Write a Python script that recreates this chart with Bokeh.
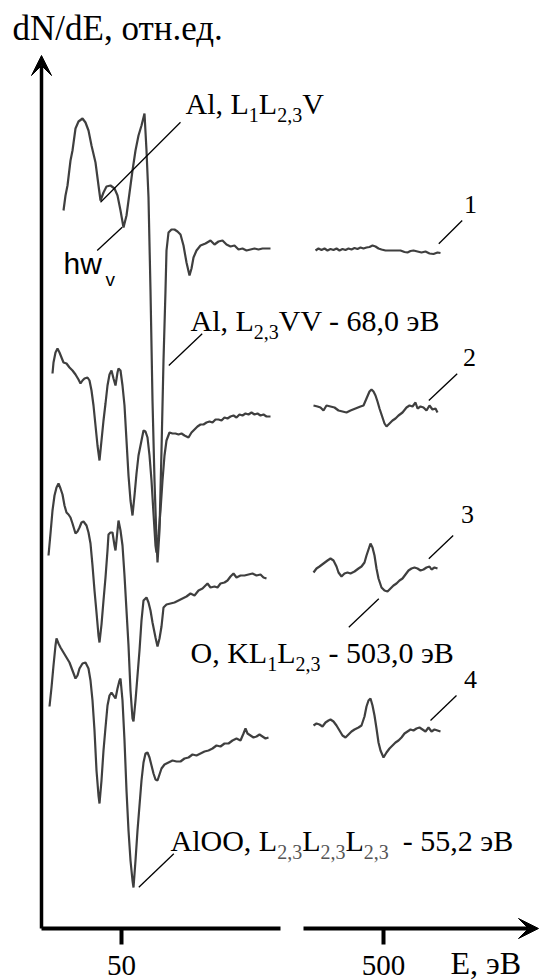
from bokeh.plotting import figure
from bokeh.models import Range1d, FixedTicker, Arrow, VeeHead
from bokeh.core.properties import value
from bokeh.embed import file_html
from bokeh.resources import INLINE

# ---------------- data: Auger spectra dN/dE (relative units, offset per curve) ----------------
# energy removed by the break of the E axis (between the low and the high segment)
BREAK_SHIFT = 319
TICK_E = [50, 500]
TICK_LABELS = ["50", "500"]

# curve 1 (top)
C1_LOW_E = [21.0, 22.0, 23.0, 24.5, 25.5, 27.0, 28.5, 30.5, 32.0, 33.5, 35.0, 37.0, 38.5, 39.5, 41.0, 42.5, 44.5, 46.5,
            48.0, 49.5, 51.0, 52.5, 53.5, 55.5, 57.0, 58.5, 60.0, 61.5, 62.5, 63.5, 64.5, 65.5, 66.5, 67.5, 68.0, 69.0,
            70.0, 71.0, 72.0, 72.5, 73.5, 75.0, 76.5, 78.0, 79.5, 81.0, 82.5, 84.0, 85.0, 86.0, 87.5, 89.5, 92.0, 94.5,
            96.5, 98.5, 100.5, 102.5, 104.5, 106.5, 108.5, 110.5, 112.5, 114.5, 116.5, 118.5, 120.5, 122.5, 124.5]
C1_LOW_I = [71.8, 73.3, 74.3, 76.8, 77.8, 80.0, 80.7, 81.0, 80.6, 79.8, 78.3, 76.6, 74.3, 72.8, 73.6, 74.2, 74.3, 74.0,
            73.3, 71.8, 70.1, 71.3, 72.8, 75.8, 77.8, 79.3, 80.3, 81.5, 77.8, 73.1, 63.8, 52.8, 44.8, 38.8, 36.6, 39.8,
            47.8, 56.8, 63.8, 67.8, 69.6, 69.9, 69.9, 69.7, 69.4, 68.3, 66.6, 65.3, 66.0, 67.1, 67.8, 68.3, 68.5, 68.8,
            68.4, 68.7, 68.8, 68.4, 68.2, 68.3, 67.9, 68.0, 67.8, 67.9, 68.0, 67.9, 68.0, 68.0, 68.0]
C1_HIGH_E = [466.0, 467.5, 469.0, 470.5, 472.0, 473.5, 475.0, 476.5, 478.0, 479.5, 481.0, 482.5, 484.0, 485.5, 487.0,
             488.5, 490.0, 491.5, 493.0, 494.5, 496.0, 497.5, 499.0, 501.0, 503.5, 506.0, 508.5, 510.5, 512.0, 513.5,
             515.0, 517.0, 519.0, 521.0, 523.0, 525.0, 527.0, 528.5]
C1_HIGH_I = [67.8, 68.0, 67.85, 68.0, 67.8, 67.95, 67.85, 68.0, 67.8, 67.95, 67.85, 68.0, 67.9, 68.05, 67.95, 68.1,
             68.0, 68.1, 68.15, 68.3, 68.2, 68.0, 67.9, 67.8, 67.8, 67.8, 67.8, 67.65, 67.6, 67.75, 67.8, 67.7, 67.6,
             67.7, 67.5, 67.45, 67.6, 67.55]

# curve 2
C2_LOW_E = [15.5, 16.0, 17.0, 18.0, 19.0, 20.0, 21.0, 22.5, 24.0, 25.5, 27.0, 28.5, 29.5, 30.5, 31.5, 33.0, 34.0, 35.0,
            36.0, 37.0, 38.0, 39.0, 40.0, 41.0, 42.0, 43.0, 44.0, 45.0, 46.0, 47.0, 48.0, 48.5, 49.5, 50.5, 51.5, 52.5,
            53.5, 54.5, 55.5, 56.5, 57.5, 58.5, 59.5, 61.0, 62.0, 63.0, 64.0, 65.0, 66.0, 67.0, 67.5, 68.5, 69.5, 70.5,
            71.5, 72.5, 74.0, 75.5, 77.0, 78.5, 80.0, 81.5, 83.5, 85.0, 86.5, 88.0, 89.5, 91.0, 92.5, 94.0, 95.5, 97.0,
            98.5, 100.0, 101.5, 103.0, 104.5, 106.0, 107.5, 109.0, 110.5, 112.0, 113.5, 115.0, 116.5, 118.0, 119.5,
            121.0, 122.5, 124.5]
C2_LOW_I = [55.5, 56.6, 57.6, 58.0, 57.6, 57.1, 56.6, 56.5, 56.1, 55.8, 55.4, 54.9, 54.5, 54.8, 55.0, 55.1, 54.8, 53.8,
            52.3, 50.3, 48.3, 46.8, 48.8, 50.8, 52.5, 54.3, 55.4, 55.8, 55.0, 54.3, 55.6, 56.0, 55.8, 54.3, 52.3, 48.8,
            45.3, 42.8, 41.3, 43.3, 45.5, 47.3, 48.3, 49.8, 49.7, 49.1, 47.3, 44.8, 41.5, 38.3, 37.6, 39.3, 41.8, 44.8,
            47.3, 48.8, 49.6, 49.5, 49.5, 49.4, 49.5, 49.3, 49.1, 49.6, 49.9, 50.2, 50.4, 50.4, 50.6, 50.7, 50.6, 50.9,
            50.9, 50.8, 51.1, 51.0, 51.2, 51.3, 51.1, 51.4, 51.3, 51.5, 51.4, 51.6, 51.4, 51.5, 51.3, 51.4, 51.2, 51.2]
C2_HIGH_E = [465.0, 467.0, 468.5, 470.0, 471.5, 473.5, 475.5, 477.5, 479.5, 481.5, 483.5, 486.0, 488.5, 490.0, 491.5,
             493.0, 494.0, 495.0, 496.0, 497.0, 498.0, 499.5, 500.5, 501.5, 503.0, 504.5, 506.0, 507.5, 509.5, 511.5,
             513.0, 514.5, 516.0, 517.0, 518.5, 520.0, 521.5, 523.0, 524.5, 526.0, 527.0]
C2_HIGH_I = [52.3, 52.2, 52.1, 51.8, 52.3, 52.2, 52.1, 51.8, 51.7, 51.6, 51.8, 52.0, 52.2, 52.3, 53.0, 53.7, 53.9, 53.7,
             53.3, 52.7, 52.0, 51.1, 50.5, 50.2, 50.5, 50.8, 51.0, 51.3, 51.6, 52.1, 52.3, 52.2, 52.6, 52.0, 52.2, 52.1,
             51.8, 52.3, 51.9, 52.0, 51.6]

# curve 3
C3_LOW_E = [13.5, 14.5, 15.5, 16.5, 17.5, 18.5, 19.5, 20.5, 21.5, 22.5, 23.5, 24.5, 25.5, 27.0, 28.0, 29.0, 30.0, 31.0,
            32.5, 33.5, 34.5, 35.5, 36.5, 37.5, 38.5, 39.0, 40.0, 41.0, 42.0, 43.0, 43.5, 44.5, 45.5, 46.5, 47.0, 48.0,
            48.5, 49.5, 50.5, 51.5, 52.5, 53.5, 54.5, 55.5, 56.0, 57.0, 58.0, 59.0, 60.0, 61.0, 62.5, 63.5, 64.5, 65.5,
            67.0, 68.0, 69.0, 70.0, 71.0, 72.5, 74.5, 76.5, 78.5, 80.5, 82.5, 84.5, 86.5, 88.5, 90.5, 92.0, 93.0, 94.5,
            96.5, 98.0, 99.5, 101.5, 103.0, 104.5, 106.0, 107.5, 109.5, 111.5, 113.5, 115.5, 117.5, 119.5, 121.0, 122.5]
C3_LOW_I = [37.3, 39.5, 41.8, 43.3, 44.1, 44.5, 44.0, 43.4, 42.3, 41.6, 41.4, 41.1, 40.5, 39.5, 39.7, 40.1, 40.6, 40.7,
            40.3, 39.6, 38.5, 36.3, 33.8, 31.6, 29.3, 28.6, 30.4, 32.8, 35.1, 37.8, 39.4, 39.6, 39.6, 38.3, 37.8, 39.8,
            40.8, 39.8, 38.3, 35.3, 31.8, 28.3, 23.8, 21.0, 20.7, 22.8, 25.3, 27.8, 30.8, 32.8, 33.1, 32.6, 31.8, 30.6,
            29.1, 28.2, 29.0, 30.2, 32.1, 32.4, 32.5, 32.6, 32.8, 33.0, 33.2, 33.5, 33.3, 33.8, 34.0, 34.3, 34.5, 34.1,
            34.2, 34.1, 34.5, 34.6, 34.8, 35.2, 35.5, 35.1, 35.3, 35.3, 35.4, 35.5, 35.3, 35.4, 35.1, 35.0]
C3_HIGH_E = [465.0, 466.5, 468.0, 470.0, 472.0, 473.5, 475.0, 476.5, 477.5, 479.0, 480.5, 482.0, 483.5, 485.5, 487.5,
             489.0, 490.5, 491.5, 492.5, 493.5, 494.5, 495.5, 496.5, 497.5, 499.0, 500.5, 502.0, 503.5, 505.0, 506.5,
             508.0, 509.5, 511.0, 512.5, 514.0, 515.5, 517.0, 518.5, 520.0, 521.5, 523.0, 524.0, 525.5, 527.0]
C3_HIGH_I = [35.6, 36.0, 36.2, 36.5, 36.8, 37.0, 36.8, 36.2, 35.6, 35.2, 35.5, 35.6, 35.5, 35.7, 36.0, 36.2, 36.6, 37.3,
             37.9, 38.5, 38.1, 37.3, 36.0, 35.0, 34.1, 33.8, 33.7, 34.0, 34.3, 34.5, 34.8, 35.0, 35.4, 35.8, 36.0, 36.1,
             36.0, 35.8, 35.9, 36.1, 36.2, 35.9, 36.1, 36.0]

# curve 4 (bottom)
C4_LOW_E = [14.0, 15.0, 16.0, 17.0, 17.5, 18.5, 19.5, 21.0, 22.5, 24.0, 25.5, 27.0, 28.0, 29.0, 30.5, 32.0, 33.5, 34.5,
            35.5, 36.5, 37.5, 38.5, 39.0, 40.0, 41.0, 42.0, 43.0, 44.0, 45.0, 46.0, 47.0, 48.0, 49.0, 49.5, 50.5, 51.5,
            52.5, 53.5, 54.5, 55.5, 56.0, 57.0, 58.0, 59.0, 60.0, 61.0, 62.0, 63.0, 64.0, 65.0, 66.0, 67.0, 68.0, 69.0,
            70.0, 71.5, 73.5, 75.5, 77.5, 79.5, 81.5, 83.5, 85.5, 87.5, 89.5, 91.5, 93.5, 95.5, 97.5, 99.5, 101.5, 103.5,
            105.5, 107.5, 109.5, 111.0, 112.0, 113.0, 114.5, 116.0, 117.5, 119.0, 120.5, 122.0, 123.5]
C4_LOW_I = [22.2, 24.1, 26.3, 28.3, 29.0, 28.5, 28.1, 27.6, 27.1, 26.6, 25.8, 25.0, 25.3, 26.0, 26.5, 26.6, 26.0, 24.8,
            22.8, 19.8, 15.8, 13.3, 12.5, 14.8, 17.8, 20.1, 22.3, 23.3, 23.6, 23.3, 23.0, 24.0, 24.8, 25.0, 22.8, 18.8,
            13.8, 9.8, 6.8, 4.8, 4.1, 6.8, 9.8, 12.3, 14.8, 16.6, 17.5, 17.6, 17.1, 16.3, 15.5, 14.9, 14.8, 15.4, 16.0,
            16.4, 16.6, 16.8, 16.7, 16.7, 17.0, 17.1, 17.4, 17.3, 17.5, 17.7, 17.8, 18.0, 18.3, 18.2, 18.5, 18.5, 18.8,
            19.0, 18.8, 19.5, 20.0, 19.5, 19.3, 19.1, 19.2, 19.4, 19.2, 19.0, 19.1]
C4_HIGH_E = [465.0, 466.5, 468.0, 469.5, 471.0, 472.5, 473.5, 475.0, 476.5, 478.0, 479.5, 481.0, 482.5, 484.0, 485.5,
             487.5, 489.0, 490.5, 491.5, 492.5, 493.5, 494.5, 495.5, 496.5, 497.5, 498.5, 500.0, 501.5, 503.0, 504.5,
             506.0, 507.5, 509.0, 510.5, 512.0, 513.5, 515.0, 516.5, 518.0, 519.5, 521.0, 522.5, 524.0, 525.5, 527.0,
             528.5]
C4_HIGH_I = [20.3, 20.5, 20.4, 20.2, 20.6, 20.8, 20.9, 20.7, 20.3, 19.8, 19.3, 19.1, 19.4, 19.7, 19.9, 20.1, 20.3, 21.2,
             22.2, 22.8, 23.0, 22.3, 21.3, 20.0, 18.6, 17.8, 17.1, 17.6, 18.0, 18.3, 18.6, 18.8, 19.1, 19.5, 19.7, 19.9,
             19.8, 20.0, 20.1, 19.9, 19.7, 20.1, 19.7, 19.9, 19.8, 19.7]

CURVES = [
    (C1_LOW_E, C1_LOW_I, C1_HIGH_E, C1_HIGH_I),
    (C2_LOW_E, C2_LOW_I, C2_HIGH_E, C2_HIGH_I),
    (C3_LOW_E, C3_LOW_I, C3_HIGH_E, C3_HIGH_I),
    (C4_LOW_E, C4_LOW_I, C4_HIGH_E, C4_HIGH_I),
]

# ---------------- figure ----------------
W, H = 540, 980
X0, X1 = -10.5, 259.5
Y0, Y1 = -5.2, 92.8
PX_PER_X = W / (X1 - X0)
PX_PER_Y = H / (Y1 - Y0)

p = figure(width=W, height=H, x_range=Range1d(X0, X1), y_range=Range1d(Y0, Y1),
           output_backend="svg", toolbar_location=None, min_border=0)
p.outline_line_color = None
p.grid.visible = False
p.yaxis.visible = False
p.background_fill_color = "white"
p.border_fill_color = "white"

xa = p.xaxis[0]
xa.fixed_location = 0
tick_pos = [TICK_E[0], TICK_E[1] - BREAK_SHIFT]
xa.ticker = FixedTicker(ticks=tick_pos)
xa.major_label_overrides = {tick_pos[0]: TICK_LABELS[0], tick_pos[1]: TICK_LABELS[1]}
xa.axis_line_color = None
xa.major_tick_in = 0
xa.major_tick_out = 16
xa.major_tick_line_width = 4
xa.major_tick_line_color = "black"
xa.minor_tick_line_color = None
xa.major_label_standoff = 11
xa.major_label_text_font = "Liberation Serif"
xa.major_label_text_font_size = "29px"
xa.major_label_text_color = "black"

CURVE_COLOR = "#3f3f3f"
for lo_e, lo_i, hi_e, hi_i in CURVES:
    p.line(lo_e, lo_i, line_color=CURVE_COLOR, line_width=2.2)
    p.line([e - BREAK_SHIFT for e in hi_e], hi_i, line_color=CURVE_COLOR, line_width=2.2)

# ---------------- axes drawn as broken lines with arrows ----------------
X_AXIS_ORIGIN = 10.0
LOW_AXIS_END = 129.5
HIGH_AXIS_START = 141.0
HIGH_AXIS_END = 258.5
Y_AXIS_TOP = 87.3

p.segment(x0=[X_AXIS_ORIGIN], y0=[0], x1=[LOW_AXIS_END], y1=[0], line_color="black", line_width=4)
p.add_layout(Arrow(end=VeeHead(size=20, fill_color="black", line_color="black"),
                   x_start=HIGH_AXIS_START, y_start=0, x_end=HIGH_AXIS_END, y_end=0,
                   line_color="black", line_width=4))
p.add_layout(Arrow(end=VeeHead(size=20, fill_color="black", line_color="black"),
                   x_start=X_AXIS_ORIGIN, y_start=0, x_end=X_AXIS_ORIGIN, y_end=Y_AXIS_TOP,
                   line_color="black", line_width=3.5))

# ---------------- leader lines ----------------
LEADERS = [
    (39.5, 72.63, 79.5, 80.63),
    (37.85, 67.8, 50.35, 70.13),
    (73.65, 56.3, 90.35, 59.47),
    (178.65, 32.97, 163.65, 30.13),
    (58.65, 4.13, 76.15, 7.47),
    (208.65, 68.47, 220.35, 70.8),
    (203.65, 52.8, 217.85, 55.47),
    (203.65, 36.97, 215.85, 39.3),
    (204.5, 20.8, 217.5, 23.3),
]
p.segment(x0=[l[0] for l in LEADERS], y0=[l[1] for l in LEADERS],
          x1=[l[2] for l in LEADERS], y1=[l[3] for l in LEADERS],
          line_color="black", line_width=1.3)

# the text glyph puts its box a little below the alphabetic baseline; compensate (fraction of font size)
BASELINE_FIX = 0.32


def add_text(pieces, font, size_px, color="black", align="left"):
    dy = BASELINE_FIX * size_px / PX_PER_Y
    p.text(x=[t[1] for t in pieces], y=[t[2] + dy for t in pieces], text=[t[0] for t in pieces],
           text_font=value(font), text_font_size=f"{size_px}px", text_color=color,
           text_align=align, text_baseline="alphabetic")


SERIF = "Liberation Serif"
MAIN_SIZE = 30
SUB_SIZE = 20
SUB_DROP = 8  # px
# Times / Liberation Serif advance widths (1/1000 em)
TW = {"A": 722, "l": 278, ",": 250, " ": 250, "L": 611, "O": 722, "K": 722, "V": 722, "-": 333,
      "E": 611, ".": 250, "э": 444, "В": 667}


def text_px(s, size):
    return sum(TW.get(ch, 500) for ch in s) * size / 1000.0


def add_compound(x_start, y_base, parts, sub_color="black"):
    """parts: (text, is_sub, gap_px) chained left to right like one line of rich text."""
    mains, subs = [], []
    xpx = 0.0
    for txt, is_sub, gap in parts:
        xpx += gap
        size = SUB_SIZE if is_sub else MAIN_SIZE
        x = x_start + xpx / PX_PER_X
        if is_sub:
            subs.append((txt, x, y_base - SUB_DROP / PX_PER_Y))
        else:
            mains.append((txt, x, y_base))
        xpx += text_px(txt, size)
    add_text(mains, SERIF, MAIN_SIZE)
    add_text(subs, SERIF, SUB_SIZE, color=sub_color)


# title of y axis
add_text([("dN/dE, отн.ед.", -4.5, 88.9)], SERIF, 35)
add_compound(82.0, 81.5, [("Al, L", False, 0), ("1", True, 0), ("L", False, 0), ("2,3", True, 0), ("V", False, 0)])
add_compound(84.5, 59.8, [("Al, L", False, 0), ("2,3", True, 0), ("VV - 68,0 эВ", False, 0)])
add_compound(84.5, 26.6, [("O, KL", False, 0), ("1", True, 0), ("L", False, 0), ("2,3", True, 0),
                          ("- 503,0 эВ", False, 8)])
add_compound(74.5, 7.8, [("AlOO, L", False, 0), ("2,3", True, 0), ("L", False, 0), ("2,3", True, 0),
                         ("L", False, 0), ("2,3", True, 0), ("- 55,2 эВ", False, 14)], sub_color="#555555")
add_text([("E, эВ", 214.5, -4.5)], SERIF, 32)
# hw_v
add_text([("hw", 21.0, 65.5)], "Liberation Sans", 30)
add_text([("v", 42.0, 64.3)], "Liberation Sans", 19)
# curve numbers
add_text([("1", 224.5, 71.6), ("2", 224.0, 56.3), ("3", 223.0, 40.6), ("4", 224.5, 24.1)],
         SERIF, 26, align="center")

open("out.html", "w").write(file_html(p, INLINE))
